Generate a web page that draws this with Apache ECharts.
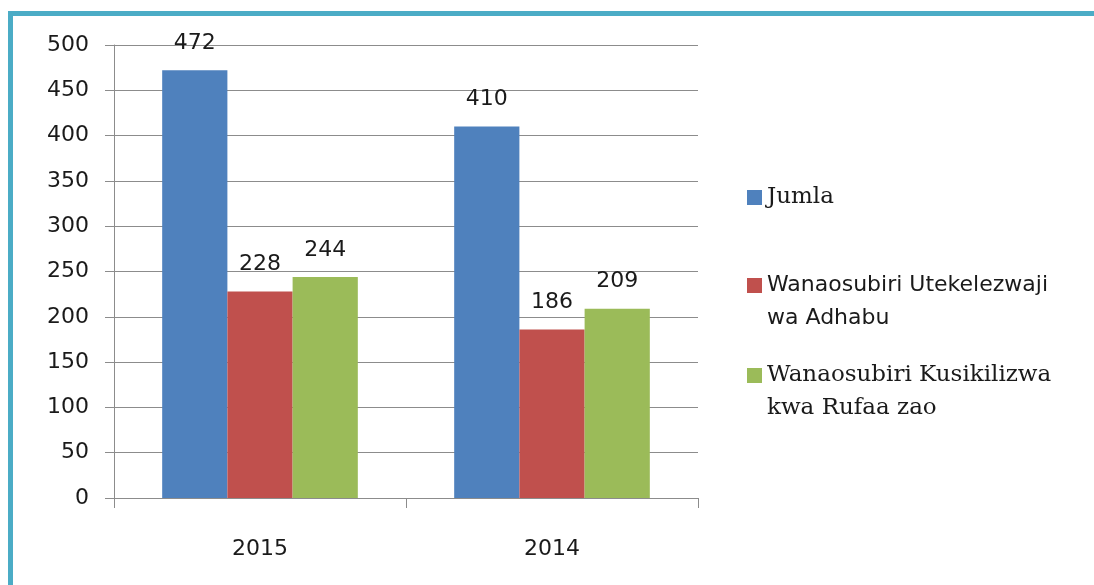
<!DOCTYPE html>
<html>
<head>
<meta charset="utf-8">
<script src="https://cdn.jsdelivr.net/npm/echarts@6/dist/echarts.min.js"></script>
<style>
	html, body { margin: 0; padding: 0; background: #fff; }
	#chart { width: 1094px; height: 585px; }
</style>
</head>
<body>
<div id="chart"></div>
<script>
CATEGORIES = ['2015', '2014'];
SERIES_NAMES = ['Jumla', 'Wanaosubiri Utekelezwaji wa Adhabu', 'Wanaosubiri Kusikilizwa kwa Rufaa zao'];
LEGEND_LINES = {
	'Wanaosubiri Utekelezwaji wa Adhabu': ['Wanaosubiri Utekelezwaji', 'wa Adhabu'],
	'Wanaosubiri Kusikilizwa kwa Rufaa zao': ['Wanaosubiri Kusikilizwa', 'kwa Rufaa zao']
};
JUMLA = [472, 410];
UTEKELEZWAJI = [228, 186];
RUFAA = [244, 209];
COLORS = ['#4F81BD', '#C0504D', '#9BBB59'];

var TEXT = '#1a1a1a';
var LINE_H = 33;

function barSeries(name, data, color) {
	return {
		name: name,
		type: 'bar',
		data: data,
		barGap: 0,
		barCategoryGap: '33%',
		itemStyle: { color: color },
		label: {
			show: true,
			position: 'top',
			distance: 16,
			color: TEXT,
			fontFamily: 'DejaVu Sans',
			fontSize: 22
		}
	};
}

// one legend per item so each can sit where the reference has it
function legendFor(name, top, serif) {
	return {
		data: [name],
		left: 747,
		top: top,
		padding: 0,
		itemWidth: 15,
		itemHeight: 15,
		icon: 'rect',
		formatter: function(n) {
			var lines = LEGEND_LINES[n];
			// blank first line keeps the icon level with the first line of text
			if (lines) return '\n' + lines.join('\n');
			return n;
		},
		textStyle: {
			color: TEXT,
			fontFamily: serif ? 'DejaVu Serif' : 'DejaVu Sans',
			fontSize: serif ? 23 : 22,
			lineHeight: LINE_H
		}
	};
}

var myChart = echarts.init(document.getElementById('chart'));

var option = {
	animation: false,
	backgroundColor: '#fff',
	grid: { left: 114, right: 396, top: 45, bottom: 87 },
	graphic: [
		{ type: 'rect', shape: { x: 8, y: 11, width: 1086, height: 5 }, style: { fill: '#4BACC6' } },
		{ type: 'rect', shape: { x: 8, y: 11, width: 5, height: 574 }, style: { fill: '#4BACC6' } }
	],
	legend: [
		legendFor(SERIES_NAMES[0], 181, true),
		legendFor(SERIES_NAMES[1], 236, false),
		legendFor(SERIES_NAMES[2], 326, true)
	],
	xAxis: {
		type: 'category',
		data: CATEGORIES,
		axisLine: { lineStyle: { color: '#8c8c8c', width: 1 } },
		axisTick: { show: true, length: 10, lineStyle: { color: '#8c8c8c' } },
		axisLabel: { color: TEXT, fontFamily: 'DejaVu Sans', fontSize: 22, margin: 40 }
	},
	yAxis: {
		type: 'value',
		min: 0,
		max: 500,
		interval: 50,
		axisLine: { show: true, lineStyle: { color: '#8c8c8c', width: 1 } },
		axisTick: { show: true, length: 9, lineStyle: { color: '#8c8c8c' } },
		splitLine: { lineStyle: { color: '#8c8c8c', width: 1 } },
		axisLabel: { color: TEXT, fontFamily: 'DejaVu Sans', fontSize: 22, margin: 25 }
	},
	series: [
		barSeries(SERIES_NAMES[0], JUMLA, COLORS[0]),
		barSeries(SERIES_NAMES[1], UTEKELEZWAJI, COLORS[1]),
		barSeries(SERIES_NAMES[2], RUFAA, COLORS[2])
	]
};

myChart.setOption(option);
</script>
</body>
</html>
